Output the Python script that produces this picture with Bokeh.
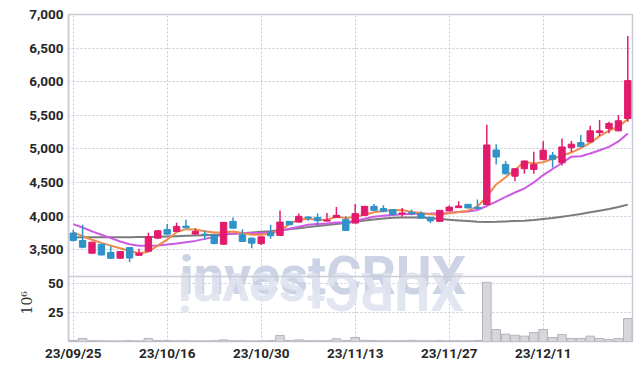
import math
from bokeh.plotting import figure
from bokeh.models import (Range1d, FixedTicker, NumeralTickFormatter,
                          ColumnDataSource, Span, Title)
from bokeh.embed import file_html
from bokeh.resources import INLINE
from bokeh.core.properties import value

# ---------------- data ----------------
dates = [
    "23/09/25", "23/09/26", "23/09/27", "23/10/04", "23/10/05", "23/10/06",
    "23/10/10", "23/10/11", "23/10/12", "23/10/13",
    "23/10/16", "23/10/17", "23/10/18", "23/10/19", "23/10/20",
    "23/10/23", "23/10/24", "23/10/25", "23/10/26", "23/10/27",
    "23/10/30", "23/10/31", "23/11/01", "23/11/02", "23/11/03",
    "23/11/06", "23/11/07", "23/11/08", "23/11/09", "23/11/10",
    "23/11/13", "23/11/14", "23/11/15", "23/11/16", "23/11/17",
    "23/11/20", "23/11/21", "23/11/22", "23/11/23", "23/11/24",
    "23/11/27", "23/11/28", "23/11/29", "23/11/30", "23/12/01",
    "23/12/04", "23/12/05", "23/12/06", "23/12/07", "23/12/08",
    "23/12/11", "23/12/12", "23/12/13", "23/12/14", "23/12/15",
    "23/12/18", "23/12/19", "23/12/20", "23/12/21", "23/12/22",
]
tick_idx = [0, 10, 20, 30, 40, 50]
price_ticks = [3500, 4000, 4500, 5000, 5500, 6000, 6500, 7000]
volume_ticks = [25, 50]

opens = [3746, 3636, 3446, 3580, 3457, 3371, 3530, 3416, 3477, 3671,
         3800, 3771, 3850, 3731, 3731, 3714, 3581, 3921, 3721, 3671,
         3590, 3756, 3711, 3921, 3910, 3985, 3980, 3925, 3980, 3946,
         3895, 4010, 4145, 4111, 4096, 4031, 4056, 4036, 3982, 3921,
         4075, 4125, 4175, 4130, 4171, 4983, 4769, 4594, 4704, 4694,
         4840, 4904, 4793, 5018, 5093, 5103, 5243, 5303, 5268, 5452]
closes = [3636, 3536, 3611, 3420, 3371, 3472, 3375, 3446, 3694, 3781,
          3730, 3846, 3826, 3771, 3724, 3590, 3906, 3820, 3621, 3596,
          3690, 3707, 3910, 3871, 3996, 3970, 3931, 3940, 4010, 3786,
          4036, 4145, 4085, 4070, 4021, 4046, 4036, 3970, 3928, 4085,
          4133, 4150, 4120, 4111, 5058, 4879, 4629, 4704, 4819, 4769,
          4980, 4844, 5028, 5069, 5033, 5268, 5268, 5378, 5418, 6016]
highs = [3796, 3871, 3611, 3585, 3550, 3480, 3540, 3512, 3750, 3790,
         3883, 3900, 3946, 3820, 3784, 3725, 3910, 3980, 3805, 3680,
         3695, 3871, 4081, 3925, 4036, 3996, 4036, 4047, 4135, 3996,
         4180, 4150, 4180, 4160, 4100, 4120, 4096, 4070, 3985, 4090,
         4156, 4220, 4180, 4246, 5358, 5069, 4819, 4710, 4825, 4958,
         5113, 4953, 5153, 5118, 5208, 5343, 5428, 5403, 5503, 6680]
lows = [3621, 3521, 3446, 3415, 3362, 3365, 3315, 3410, 3470, 3662,
        3725, 3765, 3820, 3725, 3647, 3580, 3575, 3815, 3615, 3521,
        3570, 3662, 3705, 3865, 3905, 3931, 3871, 3920, 3975, 3780,
        3890, 4005, 4080, 4056, 4015, 3991, 4010, 3965, 3895, 3910,
        4070, 4120, 4115, 4105, 4160, 4769, 4620, 4519, 4629, 4630,
        4835, 4719, 4754, 4953, 5028, 5098, 5193, 5233, 5263, 5403]
volumes = [0.8, 2.6, 0.7, 0.6, 0.5, 0.5, 0.7, 0.5, 2.6, 0.8,
           0.8, 0.6, 0.6, 0.5, 0.5, 0.6, 1.4, 0.7, 0.6, 0.5,
           0.6, 0.8, 5.2, 0.8, 1.4, 0.6, 0.6, 0.7, 2.3, 0.8,
           3.5, 1.0, 0.8, 0.6, 0.6, 0.7, 1.0, 0.6, 0.6, 0.8,
           0.6, 0.7, 0.6, 0.9, 51.0, 10.3, 6.3, 5.4, 4.6, 7.7,
           10.3, 3.4, 6.0, 2.6, 2.6, 4.6, 2.6, 1.7, 2.6, 19.8]

ma_short = [3756, 3700, 3647, 3600, 3560, 3520, 3480, 3445, 3470, 3560,
            3650, 3760, 3805, 3800, 3775, 3755, 3756, 3771, 3746, 3721,
            3720, 3745, 3780, 3880, 3950, 3960, 3946, 3946, 3990, 3970,
            3985, 4020, 4055, 4075, 4085, 4090, 4060, 4045, 4025, 4020,
            4040, 4060, 4080, 4140, 4290, 4470, 4578, 4690, 4804, 4784,
            4800, 4853, 4900, 4945, 5010, 5090, 5190, 5270, 5330, 5443]
ma_mid = [3880, 3830, 3771, 3721, 3671, 3621, 3581, 3557, 3557, 3562,
          3575, 3590, 3610, 3630, 3660, 3690, 3725, 3740, 3746, 3746,
          3746, 3755, 3775, 3810, 3840, 3870, 3880, 3890, 3905, 3905,
          3925, 3960, 3990, 4005, 4015, 4025, 4030, 4033, 4036, 4040,
          4046, 4060, 4068, 4090, 4150, 4215, 4285, 4350, 4410, 4500,
          4610, 4700, 4790, 4884, 4890, 4930, 4980, 5030, 5110, 5230]
ma_long = [3680, 3683, 3685, 3685, 3685, 3685, 3686, 3687, 3688, 3690,
           3695, 3700, 3705, 3710, 3715, 3720, 3725, 3735, 3745, 3755,
           3765, 3775, 3790, 3805, 3820, 3835, 3850, 3865, 3880, 3895,
           3915, 3935, 3950, 3965, 3975, 3980, 3980, 3978, 3970, 3955,
           3945, 3935, 3925, 3915, 3912, 3915, 3920, 3925, 3930, 3940,
           3955, 3970, 3990, 4010, 4030, 4055, 4080, 4105, 4135, 4170]

# ---------------- layout / styling ----------------
UP = "#e31b6d"
DOWN = "#2f93c7"
GRID = "#c6cbdb"
FRAME = "#c9ccd6"
TICK_FONT = "Roboto"
TICK_SIZE = "13.5px"
TICK_COLOR = "#262626"
WM_FONT = "Roboto"
WM_SIZE = "54px"

W, H = 634, 363
LEFT, RIGHT, TOP, BOTTOM = 68, 2, 14, 22
PRICE_PX = 262          # height of the price panel
VOL_PX = 65             # height of the volume panel
PRICE_LO, PRICE_HI = 3100, 7000
VOL_HI = 56
frame_px = PRICE_PX + VOL_PX
price_per_px = (PRICE_HI - PRICE_LO) / PRICE_PX
frame_lo = PRICE_LO - VOL_PX * price_per_px        # price value at frame bottom
vol_top = VOL_HI * frame_px / VOL_PX               # volume value at frame top


def vol_as_price(vv):
    return frame_lo + vv / vol_top * (PRICE_HI - frame_lo)


n = len(dates)
xs = list(range(n))
up = [c >= o for o, c in zip(opens, closes)]
src = ColumnDataSource(dict(
    x=xs,
    top=[max(o, c) for o, c in zip(opens, closes)],
    bottom=[min(o, c) for o, c in zip(opens, closes)],
    high=highs, low=lows,
    color=[UP if u else DOWN for u in up],
    vol=volumes,
))

p = figure(width=W, height=H, x_range=Range1d(-0.5, n - 0.5),
           y_range=Range1d(frame_lo, PRICE_HI),
           output_backend="svg", toolbar_location=None,
           min_border_left=LEFT, min_border_right=RIGHT,
           min_border_top=TOP, min_border_bottom=BOTTOM)
p.extra_y_ranges = {"vol": Range1d(0, vol_top)}
p.background_fill_color = "white"
p.outline_line_color = FRAME
p.outline_line_width = 1.5

# left axis: price ticks plus the two volume ticks of the lower panel
vt = [vol_as_price(t) for t in volume_ticks]
ax = p.yaxis[0]
ax.ticker = FixedTicker(ticks=vt + price_ticks)
ax.formatter = NumeralTickFormatter(format="0,0")
ax.major_label_overrides = {vt[i]: str(volume_ticks[i]) for i in range(len(vt))}
ax.major_tick_line_color = None
ax.minor_tick_line_color = None
ax.major_tick_out = 0
ax.major_tick_in = 0
ax.axis_line_color = FRAME
ax.axis_line_width = 1.5
ax.major_label_standoff = 5
ax.major_label_text_font = TICK_FONT
ax.major_label_text_font_style = "bold"
ax.major_label_text_font_size = TICK_SIZE
ax.major_label_text_color = TICK_COLOR
p.ygrid.grid_line_color = GRID
p.ygrid.grid_line_dash = "2 2"

xa = p.xaxis[0]
xa.ticker = FixedTicker(ticks=tick_idx)
xa.major_label_overrides = {i: dates[i] for i in tick_idx}
xa.major_tick_line_color = None
xa.minor_tick_line_color = None
xa.major_tick_out = 0
xa.major_tick_in = 0
xa.axis_line_color = None
xa.major_label_standoff = 3
xa.major_label_text_font = TICK_FONT
xa.major_label_text_font_style = "bold"
xa.major_label_text_font_size = TICK_SIZE
xa.major_label_text_color = TICK_COLOR
p.xgrid.grid_line_color = GRID
p.xgrid.grid_line_dash = "2 2"

# separator between price and volume panels
p.add_layout(Span(location=PRICE_LO, dimension="width", line_color=FRAME, line_width=1.5))

# volume unit label (left side, next to the volume ticks)
p.add_layout(Title(text="10⁶", align="left", vertical_align="middle", offset=27,
                   standoff=-30, text_font="DejaVu Serif", text_font_style="normal",
                   text_font_size="14px", text_color="#333333"), "left")

# watermark and its reflection
p.text(x=[11.3], y=[PRICE_LO + 12], text=["investCRUX"], text_font=value(WM_FONT),
       text_font_style="bold", text_font_size=WM_SIZE, text_color="#c6cee2",
       text_alpha=0.9, text_baseline="alphabetic", text_align="left")
p.text(x=[41.6], y=[PRICE_LO - 228], text=["XURCtsevni"], angle=math.pi,
       text_font=value(WM_FONT), text_font_style="bold",
       text_font_size=WM_SIZE, text_color="#dfe3ee", text_alpha=0.9,
       text_baseline="alphabetic", text_align="left")

# volume bars
p.vbar(x="x", width=0.92, top="vol", bottom=0, source=src, y_range_name="vol",
       fill_color="#d6d6db", line_color="#b3b3bb", line_width=1)

# moving averages (under candles)
p.line(xs, ma_long, line_color="#7b7b7b", line_width=2)
p.line(xs, ma_mid, line_color="#cc5ae3", line_width=2)
p.line(xs, ma_short, line_color="#f08a4b", line_width=2)

# candles
p.segment(x0="x", y0="low", x1="x", y1="high", source=src, line_color="color", line_width=1.5)
p.vbar(x="x", width=0.68, top="top", bottom="bottom", source=src,
       fill_color="color", line_color="color", line_width=1)

open("out.html", "w").write(file_html(p, INLINE))
